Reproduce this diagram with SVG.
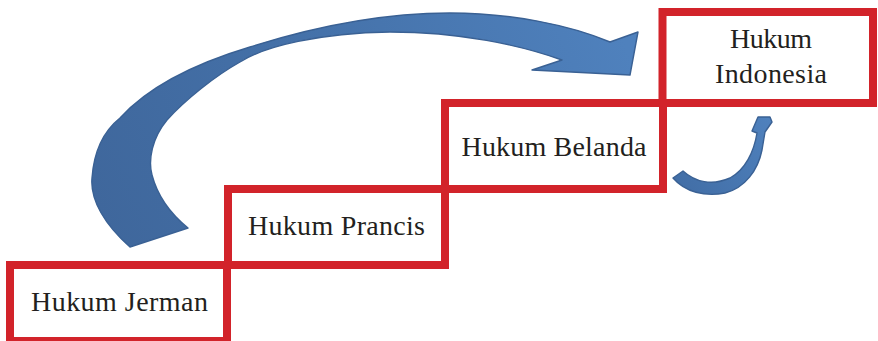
<svg xmlns="http://www.w3.org/2000/svg" width="878" height="341" viewBox="0 0 878 341">
  <style>
    .box { fill: #ffffff; stroke: #D2232A; stroke-width: 8; }
    .label { font-family: "Liberation Serif", "DejaVu Serif", serif; font-size: 28px; fill: #231F20; text-anchor: middle; }
    .arrow { stroke: #3A6194; stroke-width: 1.4; stroke-linejoin: round; }
  </style>
  <defs>
    <linearGradient id="bigFill" gradientUnits="userSpaceOnUse" x1="110" y1="240" x2="620" y2="30">
      <stop offset="0" stop-color="#3F679C"/>
      <stop offset="0.5" stop-color="#4572AA"/>
      <stop offset="1" stop-color="#4F81BD"/>
    </linearGradient>
    <linearGradient id="smallFill" gradientUnits="userSpaceOnUse" x1="673" y1="190" x2="770" y2="118">
      <stop offset="0" stop-color="#416DA5"/>
      <stop offset="1" stop-color="#4F81BD"/>
    </linearGradient>
  </defs>

  <rect width="878" height="341" fill="#ffffff"/>

  <!-- steps -->
  <g id="node-jerman">
    <rect class="box" x="10" y="265" width="217" height="76"/>
    <text class="label" x="119.5" y="311" textLength="177" lengthAdjust="spacing">Hukum Jerman</text>
  </g>
  <g id="node-prancis">
    <rect class="box" x="228" y="189" width="217" height="76"/>
    <text class="label" x="336.5" y="235" textLength="177" lengthAdjust="spacing">Hukum Prancis</text>
  </g>
  <g id="node-belanda">
    <rect class="box" x="445" y="103" width="218" height="86"/>
    <text class="label" x="554" y="156" textLength="185" lengthAdjust="spacing">Hukum Belanda</text>
  </g>
  <g id="node-indonesia">
    <rect class="box" x="662.5" y="12" width="210.5" height="91"/>
    <text class="label" x="771" y="48" textLength="82" lengthAdjust="spacing">Hukum</text>
    <text class="label" x="771" y="83" textLength="112" lengthAdjust="spacing">Indonesia</text>
  </g>

  <!-- connectors -->
  <g id="connectors">
    <!-- large curved arrow: Jerman over to Indonesia -->
    <path class="arrow" fill="url(#bigFill)" d="M130,247 C105,225 90,200 92,178 C94,150 105,130 120,118 C150,85 200,62 250,47 C310,28 380,13 450,13 C510,13 570,25 610,42 L638,32 L630,75 L532,70 L562,60 C520,45 460,32 390,32 C320,33 265,46 240,62 C215,76 185,100 167,120 C152,138 148,160 152,175 C158,198 172,215 188,228 Z"/>
    <!-- small curved arrow: Belanda up to Indonesia -->
    <path class="arrow" fill="url(#smallFill)" d="M673,178 C685,192 705,197 725,193 C745,188 758,170 762,150 L765,132 L772,122 L770,117 L758,117 L752,131 L757,133 C754,152 745,170 730,178 C712,186 695,182 683,171 Z"/>
  </g>
</svg>
